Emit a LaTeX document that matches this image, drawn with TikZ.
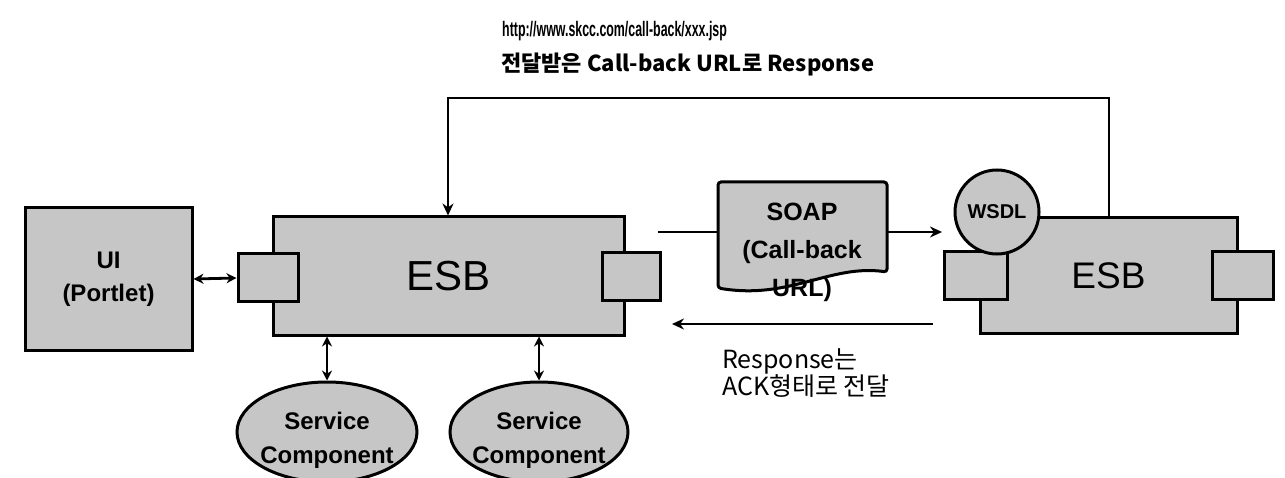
\documentclass[tikz,border=0pt]{standalone}
\usepackage{fontspec}
\setmainfont{Liberation Sans}
\newfontfamily\kr{Noto Sans CJK KR}
\usetikzlibrary{arrows.meta,shapes.geometric}
\tikzset{
  boxfill/.style={fill=gray!45, draw=black, line width=3pt},
  portbox/.style={boxfill},
  conn/.style={line width=2.8pt},
  tip/.style={-{Stealth[length=12pt,width=11pt]}},
  bothtip/.style={{Stealth[length=10pt,width=10pt]}-{Stealth[length=10pt,width=10pt]}},
  sctext/.style={font=\bfseries\fontsize{24}{34}\selectfont, align=center},
}
\begin{document}
\begin{tikzpicture}[x=1pt,y=-1pt]
\useasboundingbox (0,0) rectangle (1285,478);

% UI box
\node[boxfill, minimum width=167pt, minimum height=142pt, align=center,
      font=\bfseries\fontsize{24}{33}\selectfont] (ui) at (108.5,279) {UI\\(Portlet)};

% ESB 1
\node[boxfill, minimum width=351pt, minimum height=118pt,
      font=\fontsize{42}{44}\selectfont] (esb1) at (448.5,276) {ESB};
\node[portbox, minimum width=60pt, minimum height=48pt] (p1l) at (268,278) {};
\node[portbox, minimum width=58pt, minimum height=48pt] (p1r) at (631,277) {};

% ESB 2
\node[boxfill, minimum width=257pt, minimum height=115pt,
      font=\fontsize{37}{39}\selectfont] (esb2) at (1108.5,275.5) {ESB};
\node[portbox, minimum width=63pt, minimum height=48pt] (p2l) at (975.5,276) {};
\node[portbox, minimum width=61pt, minimum height=48pt] (p2r) at (1242.5,276) {};
\node[boxfill, circle, minimum size=84pt, inner sep=0pt,
      font=\bfseries\fontsize{20}{20}\selectfont] (wsdl) at (997,212) {WSDL};

% Service components
\node[boxfill, ellipse, minimum width=180pt, minimum height=100pt,
      label={[sctext, yshift=-8pt]center:Service\\Component}] (sc1) at (327,432) {};
\node[boxfill, ellipse, minimum width=178pt, minimum height=100pt,
      label={[sctext, yshift=-8pt]center:Service\\Component}] (sc2) at (539,432) {};

% SOAP message (document shape)
\coordinate (soapin) at (658,232);
\coordinate (soapout) at (942,232);
\draw[conn, tip] (soapin) -- (soapout);
\filldraw[fill=gray!45, draw=black, line width=3pt, rounded corners=3pt]
  (718,182) -- (887,182) -- (887,272)
  .. controls (830,264) and (790,300) .. (718,288) -- cycle;
\node[align=center, font=\bfseries\fontsize{25}{38}\selectfont, inner sep=0pt] (soap) at (802,252)
  {SOAP\\(Call-back\\URL)};

% Response arrow
\coordinate (respstart) at (933,324);
\coordinate (respend) at (672,324);
\draw[conn, tip] (respstart) -- (respend);
\node[align=left, anchor=north west, inner sep=0pt,
      font=\kr\fontsize{25}{27}\selectfont] (resp) at (722,348) {Response는\\ACK형태로 전달};

% UI <-> port
\draw[conn, bothtip] (ui.east) -- (p1l.west);

% ESB1 <-> service components
\draw[conn, bothtip] (esb1.south -| sc1.north) -- (sc1.north);
\draw[conn, bothtip] (esb1.south -| sc2.north) -- (sc2.north);

% Call-back line
\coordinate (tl) at (448,98);
\coordinate (tr) at (1109,98);
\draw[conn, tip] (esb2.north -| tr) -- (tr) -- (tl) -- (tl |- esb1.north);

% Titles
\node[anchor=west, inner sep=0pt, font=\bfseries\fontsize{21}{21}\selectfont] (url) at (502,31)
  {\scalebox{0.59}[1]{http://www.skcc.com/call-back/xxx.jsp}};
\node[anchor=west, inner sep=0pt, font=\kr\bfseries\fontsize{22}{22}\selectfont] (title) at (501,64)
  {전달받은 Call-back URL로 Response};
\end{tikzpicture}
\end{document}
